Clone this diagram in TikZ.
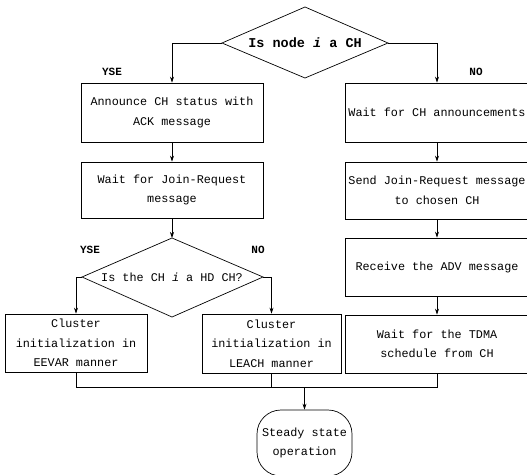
\documentclass[tikz,border=0pt]{standalone}
\usepackage{fontspec}
\setmainfont{Liberation Mono}
\usetikzlibrary{arrows.meta}
\begin{document}
\begin{tikzpicture}[x=1pt,y=-1pt,
  line width=0.7pt,
  every node/.style={font=\fontsize{11.8}{19.5}\selectfont},
  procbox/.style={draw, rectangle, inner sep=0pt, align=center},
  dtext/.style={inner sep=0pt, align=center},
  lbl/.style={font=\bfseries\fontsize{11}{13}\selectfont, inner sep=0pt},
  arr/.style={-{Stealth[length=6pt,width=4pt]}}
]
\useasboundingbox (0,0) rectangle (527,474);

% decision 1
\node[dtext, font=\bfseries\fontsize{13.5}{16}\selectfont] (d1) at (305,43) {Is node \textit{i} a CH};
\coordinate (d1w) at (222,43);
\coordinate (d1e) at (388,43);
\coordinate (d1n) at (305,7);
\coordinate (d1s) at (305,78);
\draw (d1w) -- (d1n) -- (d1e) -- (d1s) -- cycle;

% decision 2
\node[dtext] (d2) at (172,277) {Is the CH \textit{i} a HD CH?};
\coordinate (d2w) at (82,277);
\coordinate (d2e) at (263,277);
\coordinate (d2n) at (172,238);
\coordinate (d2s) at (172,317);
\draw (d2w) -- (d2n) -- (d2e) -- (d2s) -- cycle;

% left column
\node[procbox, minimum width=182pt, minimum height=59pt] (a) at (172,112.5) {Announce CH status with\\ACK message};
\node[procbox, minimum width=182pt, minimum height=56pt] (b) at (172,190) {Wait for Join-Request\\message};
\node[procbox, minimum width=142pt, minimum height=58pt] (c) at (76,343) {Cluster\\initialization in\\EEVAR manner};
\node[procbox, minimum width=139pt, minimum height=59pt] (d) at (271.5,343.5) {Cluster\\initialization in\\LEACH manner};

% right column
\node[procbox, minimum width=184pt, minimum height=59pt] (e) at (437,112.5) {Wait for CH announcements};
\node[procbox, minimum width=184pt, minimum height=57pt] (f) at (437,190.5) {Send Join-Request message\\to chosen CH};
\node[procbox, minimum width=184pt, minimum height=58pt] (g) at (437,267) {Receive the ADV message};
\node[procbox, minimum width=184pt, minimum height=58pt] (h) at (437,344) {Wait for the TDMA\\schedule from CH};

% terminal
\node[draw, rectangle, rounded corners=24pt, minimum width=95pt, minimum height=66pt, inner sep=0pt, align=center] (t) at (304.5,443) {Steady state\\operation};

% labels
\node[lbl] (l1) at (112,72) {YSE};
\node[lbl] (l2) at (476,72) {NO};
\node[lbl] (l3) at (90,250) {YSE};
\node[lbl] (l4) at (258,250) {NO};

% connectors
\draw[arr] (d1w) -| (a.north);
\draw[arr] (d1e) -| (e.north);
\draw[arr] (a) -- (b);
\draw[arr] (b) -- (d2n);
\draw[arr] (d2w) -| (c.north);
\draw[arr] (d2e) -| (d.north);
\draw[arr] (e) -- (f);
\draw[arr] (f) -- (g);
\draw[arr] (g) -- (h);

\coordinate (m1) at (76,387);
\coordinate (m2) at (271.5,387);
\coordinate (m3) at (437,387);
\coordinate (mt) at (304.5,387);
\draw (c.south) -- (m1) -- (m3) -- (h.south);
\draw (d.south) -- (m2);
\draw[arr] (mt) -- (t.north);
\end{tikzpicture}
\end{document}
